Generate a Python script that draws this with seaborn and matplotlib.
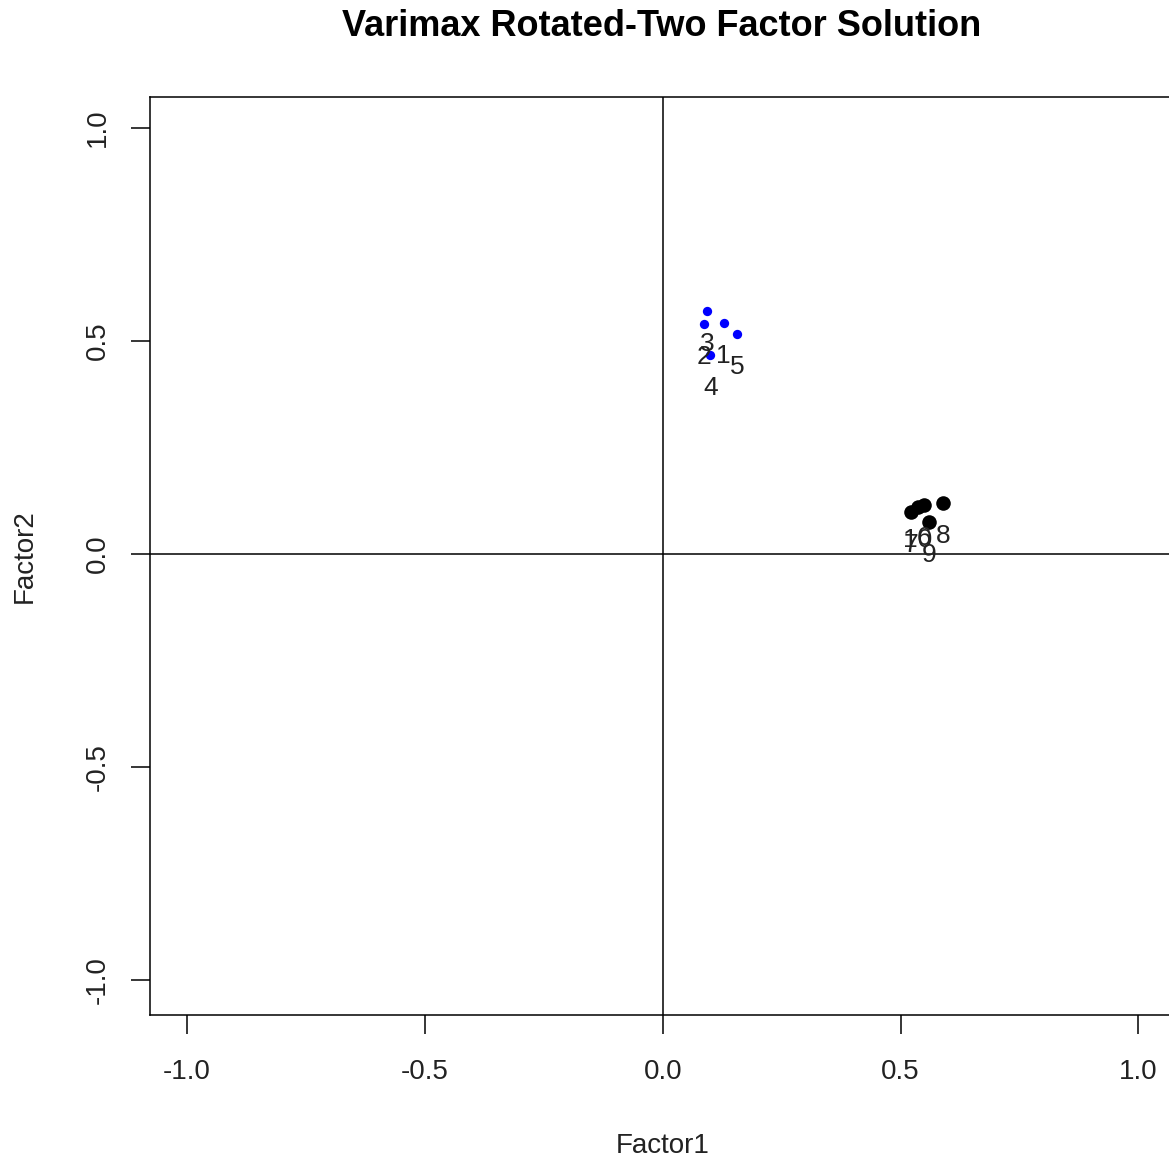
import pandas as pd
import numpy as np
import matplotlib
matplotlib.use("Agg")
import matplotlib.pyplot as plt
import seaborn as sns

# rotated loadings
variables = ["1", "2", "3", "4", "5", "6", "7", "8", "9", "10"]
factor1 = [0.128, 0.087, 0.093, 0.100, 0.156, 0.550, 0.523, 0.590, 0.560, 0.537]
factor2 = [0.543, 0.539, 0.570, 0.467, 0.516, 0.115, 0.099, 0.120, 0.075, 0.110]
group = ["F2", "F2", "F2", "F2", "F2", "F1", "F1", "F1", "F1", "F1"]
ticks = [-1.0, -0.5, 0.0, 0.5, 1.0]

data = pd.DataFrame({"Factor1": factor1, "Factor2": factor2,
                     "var": variables, "group": group})

sns.set_style("white")
plt.rcParams["font.family"] = ["Liberation Sans", "DejaVu Sans"]

fig = plt.figure(figsize=(11.69, 11.57), dpi=100)
ax = fig.add_axes([0.1283, 0.1227, 0.878, 0.7935])

sns.scatterplot(data=data[data.group == "F2"], x="Factor1", y="Factor2",
                color="blue", s=45, linewidth=0, ax=ax, zorder=3)
sns.scatterplot(data=data[data.group == "F1"], x="Factor1", y="Factor2",
                color="black", s=110, linewidth=0, ax=ax, zorder=3)

for _, r in data.iterrows():
    ax.annotate(r["var"], (r["Factor1"], r["Factor2"]), xytext=(0, -33),
                textcoords="offset pixels", ha="center", va="center",
                fontsize=19, color="#222222")

ax.axhline(0, color="black", lw=1.1)
ax.axvline(0, color="black", lw=1.1)

ax.set_xlim(-1.078, 1.08)
ax.set_ylim(-1.082, 1.073)
ax.set_xticks(ticks)
ax.set_yticks(ticks)
ax.set_xticklabels([f"{t:.1f}" for t in ticks], fontsize=20, color="#222222")
ax.set_yticklabels([f"{t:.1f}" for t in ticks], fontsize=20, color="#222222",
                   rotation=90, va="center")
ax.tick_params(axis="x", direction="out", length=14, width=1.1,
               color="black", pad=18, bottom=True)
ax.tick_params(axis="y", direction="out", length=14, width=1.1,
               color="black", pad=14, left=True)
ax.set_xlabel("Factor1", fontsize=20, color="#222222", labelpad=34)
ax.set_ylabel("Factor2", fontsize=20, color="#222222", labelpad=34)
for sp in ax.spines.values():
    sp.set_color("black")
    sp.set_linewidth(1.1)

fig.suptitle("Varimax Rotated-Two Factor Solution", fontsize=26,
             fontweight="bold", x=0.566, y=0.992, va="top", color="black")

fig.savefig("out.png", dpi=100)
